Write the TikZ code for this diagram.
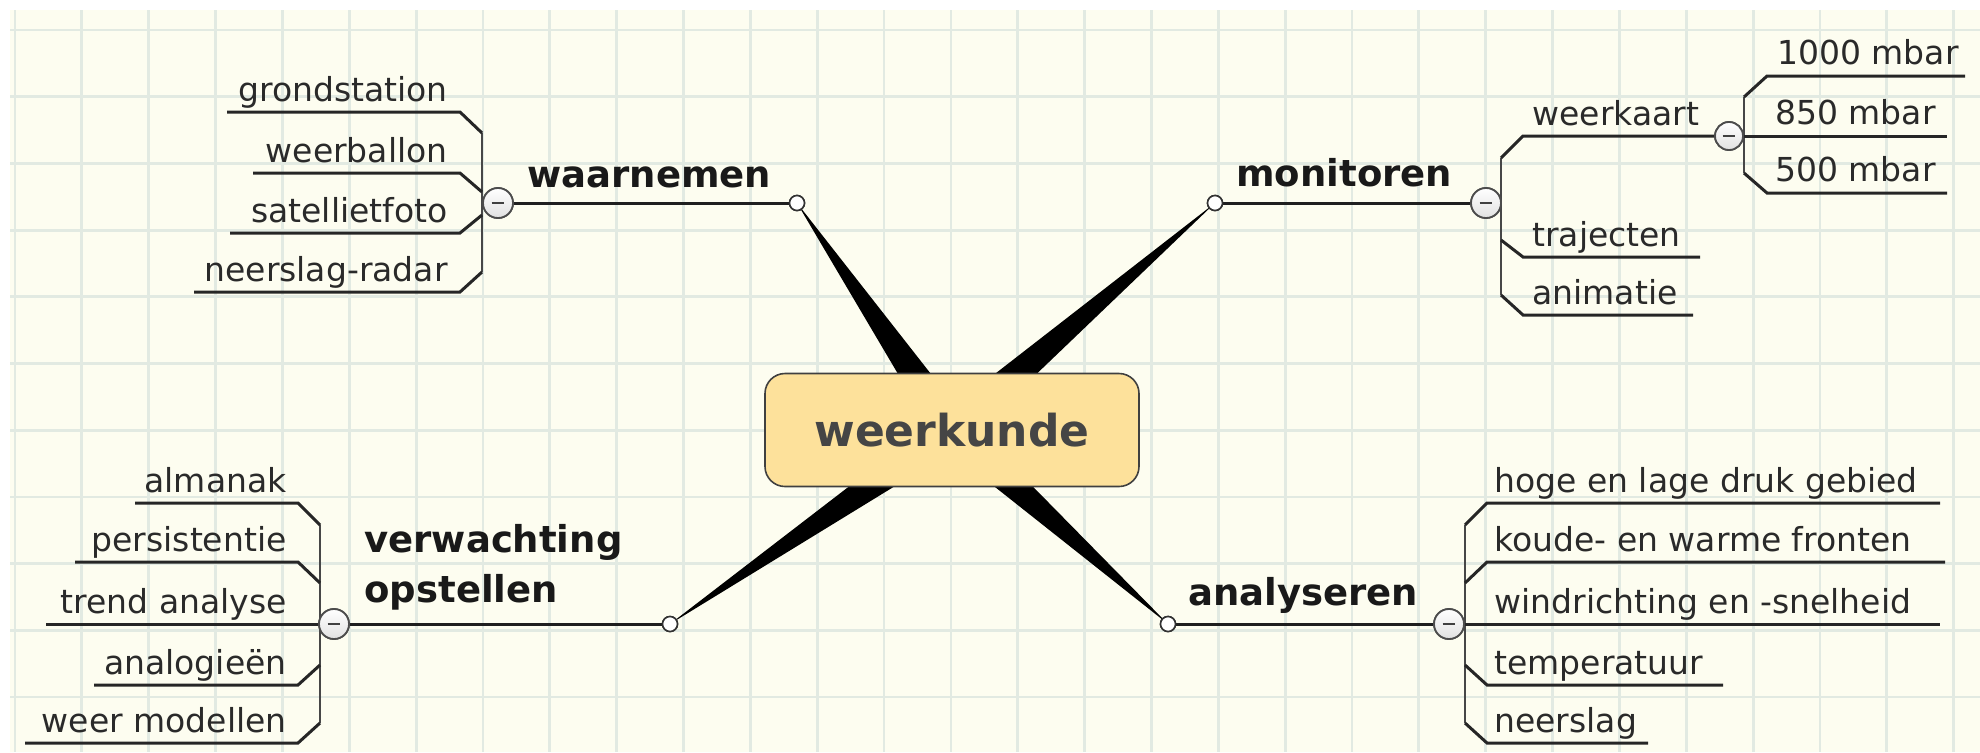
\documentclass[tikz,border=0pt]{standalone}
\usepackage{fontspec}
\setmainfont{DejaVu Sans}
\usetikzlibrary{calc}
\definecolor{bgc}{HTML}{FDFDF0}
\definecolor{gridc}{HTML}{E2EAE2}
\definecolor{boxc}{HTML}{FDE19B}
\definecolor{txt}{HTML}{2A2A2A}
\definecolor{ctr}{HTML}{454545}
\tikzset{
  gridline/.style={draw=gridc, line width=1.4pt},
  branch/.style={draw=black!88, line width=1.5pt},
  uline/.style={draw=black!85, line width=1.5pt},
  brk/.style={draw=black!72, line width=1.2pt},
  dot/.style={circle, draw=black!80, fill=white, line width=0.8pt, minimum size=7.5pt, inner sep=0},
  expander/.style={circle, draw=black!70, top color=white, bottom color=black!12, line width=0.9pt,
     minimum size=15pt, inner sep=0,
     path picture={\draw[line width=1.3pt, black!75] ([xshift=-3.2pt]path picture bounding box.center) -- ([xshift=3.2pt]path picture bounding box.center);}},
  leaf/.style={inner sep=0, font=\fontsize{16.5pt}{20pt}\selectfont, text=txt},
  lbl/.style={inner sep=0, font=\bfseries\fontsize{18.5pt}{25pt}\selectfont, text=black!90},
  wedge/.style={fill=black},
}
\begin{document}
\begin{tikzpicture}[x=0.5pt, y=-0.5pt]
\useasboundingbox (0,0) rectangle (1980,752);
% background and grid
\fill[white] (0,0) rectangle (1980,752);
\fill[bgc] (10,10) rectangle (1980,752);
\foreach \i in {0,...,29} { \draw[gridline] ({15+66.85*\i},10) -- ({15+66.85*\i},752); }
\foreach \j in {0,...,11} { \draw[gridline] (10,{30+66.7*\j}) -- (1980,{30+66.7*\j}); }

% central topic (position first, draw later)
\coordinate (Cc) at (952,430);
\node[dot] (W) at (797,203) {};
\node[dot] (M) at (1215,203) {};
\node[dot] (V) at (670,624) {};
\node[dot] (A) at (1168,624) {};

% wedges
\foreach \p in {W,M,V,A} {
  \fill[wedge] (\p.center) -- ($(Cc)!9pt!90:(\p.center)$) -- ($(Cc)!9pt!-90:(\p.center)$) -- cycle;
}
\node[draw=black!75, fill=boxc, rounded corners=10pt, minimum width=187pt, minimum height=56.5pt,
      line width=0.8pt, font=\bfseries\fontsize{22pt}{26pt}\selectfont, text=ctr] (C) at (Cc) {weerkunde};

% expanders
\node[expander] (eW) at (498,203) {};
\node[expander] (eM) at (1486,203) {};
\node[expander] (eV) at (334,624) {};
\node[expander] (eA) at (1449,624) {};
\node[expander, minimum size=14pt] (eK) at (1729,136) {};

% ---------------- waarnemen
\draw[brk] (482,133) -- (482,272);
\foreach \t/\y/\x/\d [count=\k] in {grondstation/112/227/133, weerballon/173/253/192, satellietfoto/233/230/215, neerslag-radar/292/194/272} {
  \draw[uline] (\x,\y) -- (460,\y) -- (482,\d);
  \node[leaf, anchor=base east] (wl\k) at (448,\y-11) {\t};
}
\draw[branch] (W) -- (eW);
\node[lbl, anchor=base west] (lW) at (527,187) {waarnemen};

% ---------------- monitoren
\draw[brk] (1501,158) -- (1501,295);
\draw[uline] (1501,158) -- (1523,136) -- (eK);
\node[leaf, anchor=base west] (ml1) at (1532,125) {weerkaart};
\draw[uline] (1501,240) -- (1523,257) -- (1700,257);
\node[leaf, anchor=base west] (ml2) at (1532,246) {trajecten};
\draw[uline] (1501,295) -- (1523,315) -- (1693,315);
\node[leaf, anchor=base west] (ml3) at (1532,304) {animatie};
\draw[branch] (M) -- (eM);
\node[lbl, anchor=base west] (lM) at (1236,186) {monitoren};

% weerkaart children
\draw[brk] (1744,97) -- (1744,173);
\draw[uline] (1744,97) -- (1767,76) -- (1965,76);
\node[leaf, anchor=base west] (kl1) at (1777,64) {1000 mbar};
\draw[uline] (eK) -- (1947,136);
\node[leaf, anchor=base west] (kl2) at (1775,124) {850 mbar};
\draw[uline] (1744,173) -- (1767,193) -- (1947,193);
\node[leaf, anchor=base west] (kl3) at (1775,181) {500 mbar};
\node[expander, minimum size=14pt] at (eK) {};

% ---------------- verwachting opstellen
\draw[brk] (320,525) -- (320,723);
\foreach \t/\y/\x/\d [count=\k] in {almanak/503/135/525, persistentie/562/75/583, analogieën/685/94/665, weer modellen/743/25/723} {
  \draw[uline] (\x,\y) -- (298,\y) -- (320,\d);
  \node[leaf, anchor=base east] (vl\k) at (287,\y-11) {\t};
}
\draw[uline] (46,624) -- (eV);
\node[leaf, anchor=base east] (vl5) at (287,613) {trend analyse};
\draw[branch] (V) -- (eV);
\node[lbl, anchor=base west] (lV) at (364,552) {verwachting};
\node[lbl, anchor=base west] (lV2) at (364,602) {opstellen};

% ---------------- analyseren
\draw[brk] (1465,525) -- (1465,723);
\foreach \t/\y/\x/\d [count=\k] in {hoge en lage druk gebied/503/1940/525, koude- en warme fronten/562/1945/583, temperatuur/685/1723/665, neerslag/743/1648/723} {
  \draw[uline] (1465,\d) -- (1487,\y) -- (\x,\y);
  \node[leaf, anchor=base west] (al\k) at (1494,\y-11) {\t};
}
\draw[uline] (eA) -- (1940,624);
\node[leaf, anchor=base west] (al5) at (1494,613) {windrichting en -snelheid};
\draw[branch] (A) -- (eA);
\node[lbl, anchor=base west] (lA) at (1188,605) {analyseren};

% redraw expanders and dots on top
\foreach \e in {eW,eM,eV,eA} { \node[expander] at (\e) {}; }
\foreach \p in {W,M,V,A} { \node[dot] at (\p) {}; }
\end{tikzpicture}
\end{document}
